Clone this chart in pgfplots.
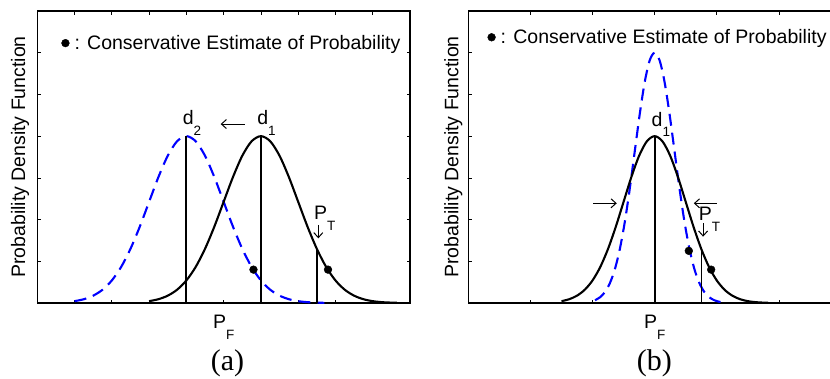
\documentclass[border=0pt]{standalone}
\usepackage{fontspec}
\setmainfont{Liberation Sans}
\newfontfamily\seriffont{Liberation Serif}
\usepackage{pgfplots}
\pgfplotsset{compat=1.18}
\usetikzlibrary{arrows.meta}
\newcommand{\sub}[1]{\raisebox{-10.5pt}{\fontsize{13.5}{14}\selectfont #1}}
\tikzset{annarrow/.style={-{Straight Barb[length=5pt,width=9pt]}, line width=1pt}}
\pgfplotsset{
  blue curve/.style={blue, line width=2.1pt, dash pattern=on 12pt off 7pt, smooth, forget plot},
  black curve/.style={black, line width=2.1pt, smooth, forget plot},
  vline/.style={black, line width=1.8pt, forget plot},
  panel/.style={
  scale only axis, width=372.7pt, height=292pt, anchor=south west,
  ymin=0, ymax=7, ytick={1,...,6}, yticklabels={}, xticklabels={},
  tick style={black, line width=0.7pt}, major tick length=3.5pt,
  axis line style={line width=1.1pt},
  clip=false,
  label style={font=\fontsize{19.5}{22}\selectfont},
  xlabel={P\sub{F}},
  xlabel style={at={(axis description cs:0.5,0)}, anchor=north, inner sep=0pt, yshift=-12pt},
  ylabel={Probability Density Function},
  legend style={draw=none, fill=none, inner sep=0pt, font=\fontsize{19.5}{22}\selectfont},
  legend image code/.code={\fill[black] (0pt,0pt) circle (3.9pt);},
}}
\begin{document}
\begin{tikzpicture}
\useasboundingbox (0,0) rectangle (830pt,378pt);
\clip (0,0) rectangle (830pt,378pt);
% ---------- panel (a)
\begin{axis}[panel, at={(37.3pt,75pt)}, xmin=0, xmax=10, xtick={1,...,9},
  ylabel style={at={(axis description cs:-0.046,0.5)}, anchor=center},
  legend style={at={(axis description cs:0.064,0.89)}, anchor=west}]
\addplot[blue curve] coordinates {
(1,0.044) (1.25,0.091) (1.5,0.176) (1.75,0.318) (2,0.541) (2.25,0.865) (2.5,1.299) (2.75,1.831)
(3,2.426) (3.25,3.019) (3.5,3.530) (3.75,3.877) (4,4) (4.25,3.877) (4.5,3.530) (4.75,3.019)
(5,2.426) (5.25,1.831) (5.5,1.299) (5.75,0.865) (6,0.541) (6.25,0.318) (6.5,0.176) (6.75,0.091)
(7,0.044) (7.25,0.020) (7.5,0.009) (7.7,0.004)};
\addplot[black curve] coordinates {
(3,0.044) (3.25,0.091) (3.5,0.176) (3.75,0.318) (4,0.541) (4.25,0.865) (4.5,1.299) (4.75,1.831)
(5,2.426) (5.25,3.019) (5.5,3.530) (5.75,3.877) (6,4) (6.25,3.877) (6.5,3.530) (6.75,3.019)
(7,2.426) (7.25,1.831) (7.5,1.299) (7.75,0.865) (8,0.541) (8.25,0.318) (8.5,0.176) (8.75,0.091)
(9,0.044) (9.25,0.020) (9.5,0.009) (9.65,0.005)};
\addplot[vline] coordinates {(4,0) (4,4)};
\addplot[vline] coordinates {(6,0) (6,4)};
\addplot[vline] coordinates {(7.5,0) (7.5,1.30)};
\addplot[only marks, mark=*, mark size=3.9pt, black] coordinates {(5.8,0.8) (7.8,0.8)};
\addlegendentry{\hspace{3pt}: Conservative Estimate of Probability}
\node[anchor=base west, inner sep=0pt, font=\fontsize{19.5}{22}\selectfont] at (axis cs:3.90,4.27) {d\sub{2}};
\node[anchor=base west, inner sep=0pt, font=\fontsize{19.5}{22}\selectfont] at (axis cs:5.90,4.27) {d\sub{1}};
\draw[annarrow] (axis cs:5.57,4.29) -- (axis cs:4.92,4.29);
\node[anchor=base west, inner sep=0pt, font=\fontsize{19.5}{22}\selectfont] at (axis cs:7.42,1.99) {P\sub{T}};
\draw[annarrow] (axis cs:7.54,1.87) -- (axis cs:7.54,1.55);
\end{axis}
% ---------- panel (b)
\begin{axis}[panel, at={(468.3pt,75pt)}, xmin=0, xmax=6, xtick={1,...,5},
  ylabel style={at={(axis description cs:-0.040,0.5)}, anchor=center},
  legend style={at={(axis description cs:0.051,0.91)}, anchor=west}]
\addplot[blue curve] coordinates {
(2.04,0.067) (2.12,0.137) (2.20,0.263) (2.28,0.478) (2.36,0.812) (2.44,1.298) (2.52,1.948)
(2.60,2.747) (2.68,3.639) (2.76,4.529) (2.84,5.295) (2.92,5.815) (3.00,6) (3.08,5.815)
(3.16,5.295) (3.24,4.529) (3.32,3.639) (3.40,2.747) (3.48,1.948) (3.56,1.298) (3.64,0.812)
(3.72,0.478) (3.80,0.263) (3.88,0.137) (3.96,0.067) (4.04,0.030) (4.12,0.013)};
\addplot[black curve] coordinates {
(1.5,0.044) (1.625,0.091) (1.75,0.176) (1.875,0.318) (2,0.541) (2.125,0.865) (2.25,1.299)
(2.375,1.831) (2.5,2.426) (2.625,3.019) (2.75,3.530) (2.875,3.877) (3,4) (3.125,3.877)
(3.25,3.530) (3.375,3.019) (3.5,2.426) (3.625,1.831) (3.75,1.299) (3.875,0.865) (4,0.541)
(4.125,0.318) (4.25,0.176) (4.375,0.091) (4.5,0.044) (4.625,0.020) (4.75,0.009) (4.825,0.005)};
\addplot[vline] coordinates {(3,0) (3,4)};
\addplot[vline, line width=1pt] coordinates {(3.76,0) (3.76,1.26)};
\addplot[only marks, mark=*, mark size=3.9pt, black] coordinates {(3.55,1.25) (3.91,0.80)};
\addlegendentry{\hspace{3pt}: Conservative Estimate of Probability}
\node[anchor=base west, inner sep=0pt, font=\fontsize{19.5}{22}\selectfont] at (axis cs:2.95,4.24) {d\sub{1}};
\draw[annarrow] (axis cs:2.01,2.39) -- (axis cs:2.39,2.39);
\draw[annarrow] (axis cs:4.0,2.39) -- (axis cs:3.63,2.39);
\node[anchor=base west, inner sep=0pt, font=\fontsize{19.5}{22}\selectfont] at (axis cs:3.71,1.97) {P\sub{T}};
\draw[annarrow] (axis cs:3.78,1.91) -- (axis cs:3.78,1.59);
\end{axis}
\node[font=\seriffont\fontsize{30}{33}\selectfont, inner sep=0pt] at (227.5pt,15pt) {(a)};
\node[font=\seriffont\fontsize{30}{33}\selectfont, inner sep=0pt] at (654.3pt,15pt) {(b)};
\end{tikzpicture}
\end{document}
